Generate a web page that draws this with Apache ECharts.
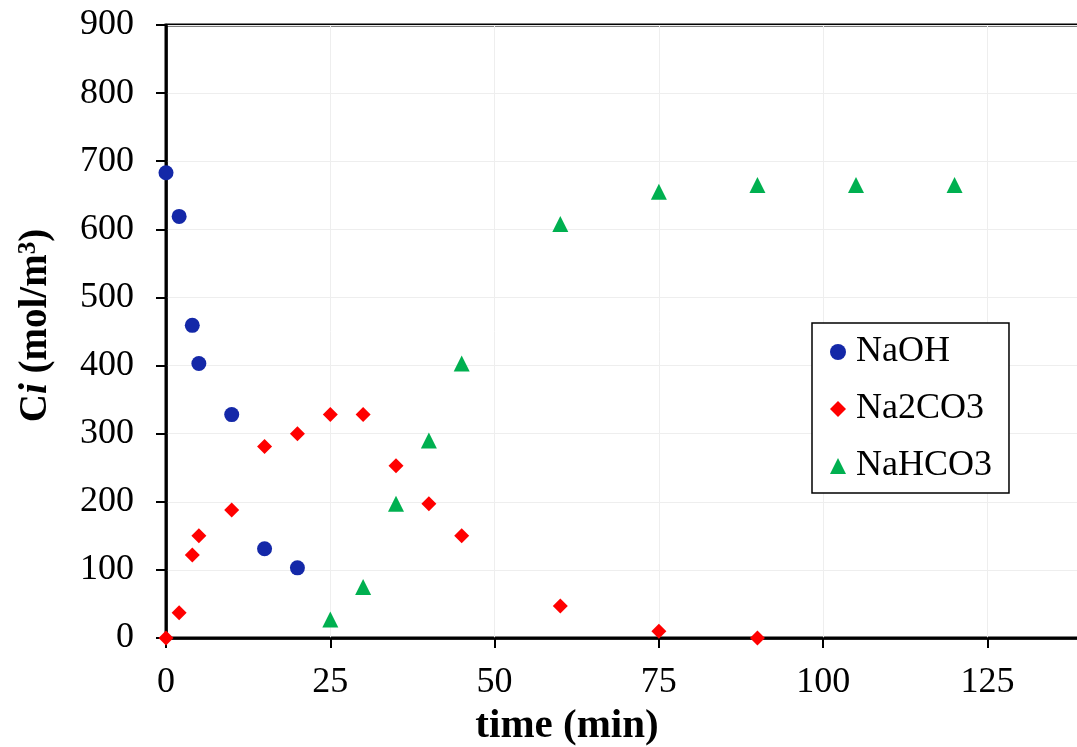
<!DOCTYPE html>
<html>
<head>
<meta charset="utf-8">
<script src="https://cdn.jsdelivr.net/npm/echarts@6/dist/echarts.min.js"></script>
<style>
  html, body { margin: 0; padding: 0; background: #fff; }
  #chart { width: 1077px; height: 747px; }
</style>
</head>
<body>
<div id="chart"></div>
<script>
const chart = echarts.init(document.getElementById('chart'))

// 读图得到的数据 (time, Ci)
const naohTime = [0, 2, 4, 5, 10, 15, 20]
const naohConc = [683, 619, 459, 403, 328, 131, 103]

const na2co3Time = [0, 2, 4, 5, 10, 15, 20, 25, 30, 35, 40, 45, 60, 75, 90]
const na2co3Conc = [0, 37, 122, 150, 188, 281, 300, 328, 328, 253, 197, 150, 47, 10, 0]

const nahco3Time = [25, 30, 35, 40, 45, 60, 75, 90, 105, 120]
const nahco3Conc = [27, 75, 197, 290, 403, 608, 655, 665, 665, 665]

const font = 'Liberation Serif, Times New Roman, serif'

const pairs = (xs, ys) => xs.map((x, i) => [x, ys[i]])

const seriesDefs = [
  { name: 'NaOH', symbol: 'circle', size: 15, color: '#1428A8', data: pairs(naohTime, naohConc) },
  { name: 'Na2CO3', symbol: 'diamond', size: 15, color: '#FF0000', data: pairs(na2co3Time, na2co3Conc) },
  { name: 'NaHCO3', symbol: 'triangle', size: 16, color: '#00B050', data: pairs(nahco3Time, nahco3Conc) },
]

const option = {
  animation: false,
  textStyle: { fontFamily: font },
  grid: {
    left: 166,
    top: 25,
    right: -9,
    bottom: 109,
    outerBoundsMode: 'none',
    containLabel: false,
    show: true,
    borderColor: '#000',
    borderWidth: 3,
  },
  legend: {
    orient: 'vertical',
    left: 812,
    top: 323,
    padding: [11, 17, 9, 18],
    itemGap: 21,
    itemWidth: 16,
    itemHeight: 16,
    borderColor: '#000',
    borderWidth: 1.5,
    backgroundColor: '#fff',
    textStyle: { fontFamily: font, fontSize: 36, color: '#000', padding: [0, 0, 0, 5] },
    data: seriesDefs.map((s) => ({ name: s.name, icon: s.symbol })),
  },
  xAxis: {
    type: 'value',
    min: 0,
    max: 140,
    interval: 25,
    name: 'time (min)',
    nameLocation: 'middle',
    nameGap: 63,
    nameTextStyle: {
      fontFamily: font,
      fontSize: 41,
      fontWeight: 'bold',
      color: '#000',
      padding: [0, 118, 0, 0],
    },
    axisLine: { onZero: false, lineStyle: { color: '#000', width: 2.5 } },
    axisTick: { show: true, length: 10, lineStyle: { color: '#000', width: 2 } },
    axisLabel: {
      fontFamily: font,
      fontSize: 36,
      color: '#000',
      margin: 27,
      showMaxLabel: false,
      formatter: (v) => (v % 25 === 0 ? v : ''),
    },
    splitLine: { show: true, lineStyle: { color: '#EEEEEE', width: 1 } },
  },
  yAxis: {
    type: 'value',
    min: 0,
    max: 900,
    interval: 100,
    name: '{b|C}{bi|i}{b| (mol/m}{sup|3}{b|)}',
    nameLocation: 'middle',
    nameGap: 111,
    nameTextStyle: {
      fontFamily: font,
      fontSize: 39,
      fontWeight: 'bold',
      color: '#000',
      padding: [0, 0, 0, 12],
      rich: {
        b: { fontFamily: font, fontSize: 39, fontWeight: 'bold', color: '#000' },
        bi: { fontFamily: font, fontSize: 39, fontWeight: 'bold', fontStyle: 'italic', color: '#000' },
        sup: { fontFamily: font, fontSize: 25, fontWeight: 'bold', color: '#000', verticalAlign: 'top' },
      },
    },
    axisLine: { show: true, lineStyle: { color: '#000', width: 2.5 } },
    axisTick: { show: true, length: 10, lineStyle: { color: '#000', width: 2 } },
    axisLabel: { fontFamily: font, fontSize: 36, color: '#000', margin: 32 },
    splitLine: { show: true, lineStyle: { color: '#EEEEEE', width: 1 } },
  },
  series: seriesDefs.map((s) => ({
    name: s.name,
    type: 'scatter',
    symbol: s.symbol,
    symbolSize: s.size,
    itemStyle: { color: s.color, opacity: 1 },
    data: s.data,
    clip: false,
  })),
}

chart.setOption(option)
</script>
</body>
</html>
